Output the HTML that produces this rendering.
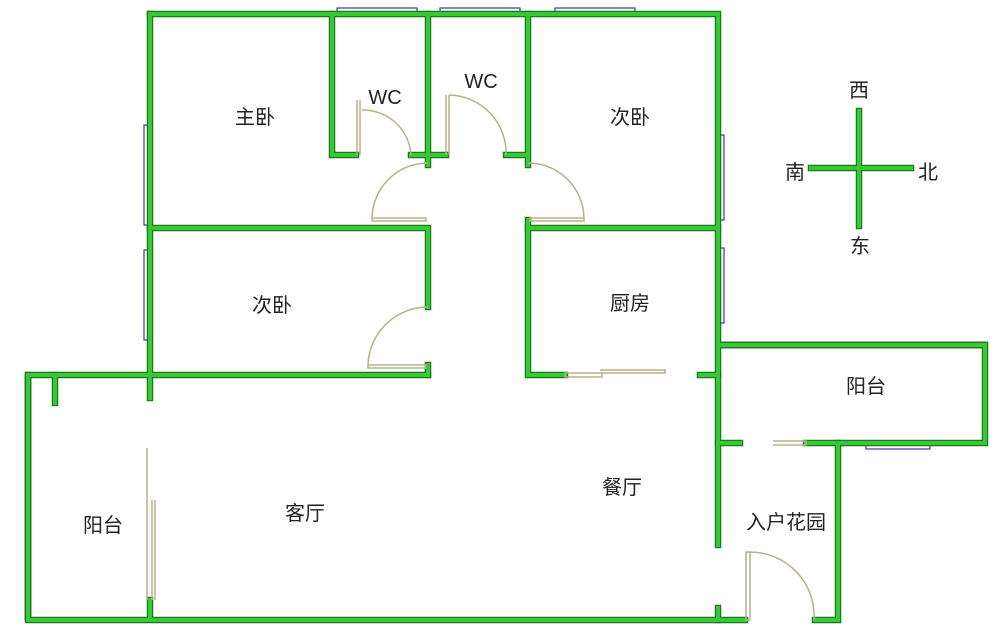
<!DOCTYPE html>
<html><head><meta charset="utf-8"><style>
html,body{margin:0;padding:0;background:#fff;width:1000px;height:638px;overflow:hidden}
text{font-family:"Liberation Sans","Noto Sans CJK SC",sans-serif;fill:#222;font-size:20px;text-anchor:middle}
</style></head><body>
<svg width="1000" height="638" viewBox="0 0 1000 638" xmlns="http://www.w3.org/2000/svg">
<defs><pattern id="h" width="4" height="4" patternUnits="userSpaceOnUse" patternTransform="rotate(45)"><line x1="0" y1="0" x2="0" y2="4" stroke="#444" stroke-width="1"/></pattern>
<g id="w">
<path d="M150 14H718V375"/>
<path d="M150 14V398"/>
<path d="M332 14V155H356"/>
<path d="M428 14V165M411 155H446"/>
<path d="M528 14V165M506 155H528"/>
<path d="M150 228H428V307M428 365V375"/>
<path d="M528 228H718"/>
<path d="M528 220V375H565M700 375H718"/>
<path d="M28 375H428"/>
<path d="M55 375V403"/>
<path d="M28 375V620H745M150 600V620"/>
<path d="M718 375V545M718 608V620"/>
<path d="M718 443H740M806 443H985V345H720"/>
<path d="M838 443V620H815"/>
<path d="M859 111V226M811 168H911"/>
</g></defs>
<!-- hatched walls -->
<rect x="25" y="376" width="6" height="244" fill="url(#h)" stroke="#444" stroke-width="0.8"/>
<rect x="720" y="342" width="266" height="6" fill="url(#h)" stroke="#444" stroke-width="0.8"/>
<!-- windows -->
<g fill="#fff" stroke="#3a3aa0" stroke-width="1.2">
<rect x="337" y="8" width="80" height="6"/><rect x="440" y="8" width="80" height="6"/><rect x="555" y="8" width="80" height="6"/>
<rect x="144" y="125" width="6" height="100"/><rect x="144" y="250" width="6" height="90"/>
<rect x="718" y="135" width="6" height="85"/><rect x="718" y="248" width="6" height="75"/>
<rect x="866" y="443" width="64" height="6"/>
<rect x="716" y="385" width="4" height="50" fill="#5050c0"/>
</g>
<!-- walls -->
<use href="#w" stroke="#1c7a1c" stroke-width="6.5" fill="none" stroke-linecap="square"/>
<use href="#w" stroke="#36c936" stroke-width="4" fill="none" stroke-linecap="square"/>
<!-- doors -->
<g stroke="#b8b088" stroke-width="1.5" fill="none">
<path d="M357 100V155M360 100V155"/>
<path d="M362 110A48 48 0 0 1 411 155"/>
<path d="M446 95V155M449 95V155"/>
<path d="M449 95A58 58 0 0 1 506 155"/>
<path d="M428 163A56 56 0 0 0 372 218V221H426V218H372"/>
<path d="M528 163A56 56 0 0 1 584 218V221H530V218H584"/>
<path d="M428 307A60 60 0 0 0 368 365V368H426V365H368"/>
<path d="M565 373H602V377H565ZM600 370H665V373H600"/>
<path d="M773 441H806V445H773"/>
<path d="M147 448V600M152 500V600M155 500V600"/>
<path d="M746 552H750V620H746ZM750 552A64 64 0 0 1 814 620"/>
</g>
<g>
<text x="255" y="124">主卧</text>
<text x="385" y="104">WC</text>
<text x="481" y="88">WC</text>
<text x="630" y="124">次卧</text>
<text x="272" y="312">次卧</text>
<text x="630" y="310">厨房</text>
<text x="866" y="393">阳台</text>
<text x="622" y="494">餐厅</text>
<text x="305" y="520">客厅</text>
<text x="103" y="532">阳台</text>
<text x="786" y="529">入户花园</text>
<text x="859" y="97">西</text>
<text x="795" y="179">南</text>
<text x="928" y="179">北</text>
<text x="860" y="253">东</text>
</g>
</svg>
</body></html>
